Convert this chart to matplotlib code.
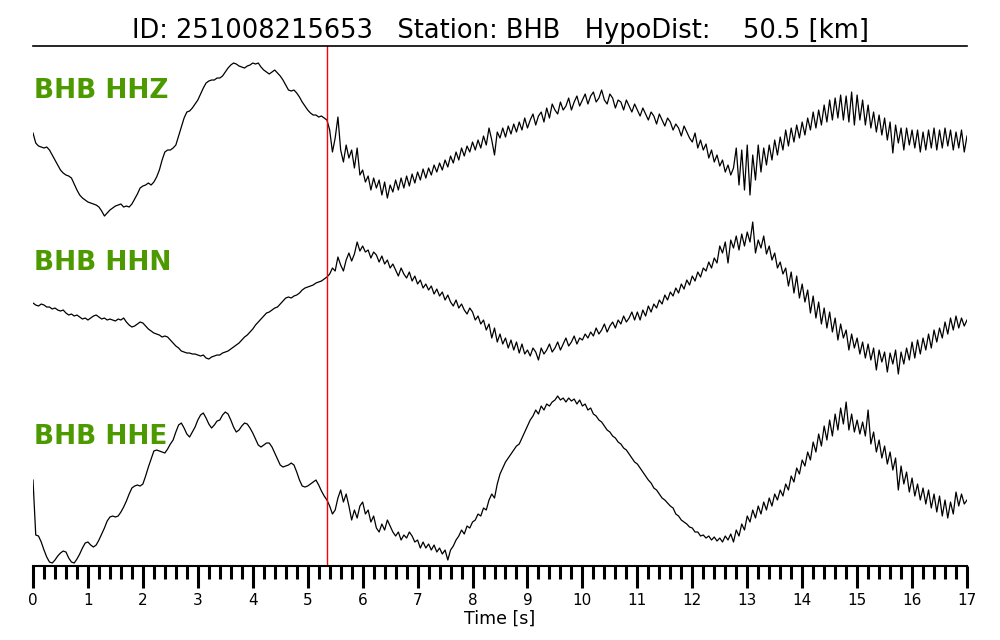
import numpy as np
import matplotlib
matplotlib.use('Agg')
import matplotlib.pyplot as plt
from matplotlib.ticker import MultipleLocator

# record info
event_id = "251008215653"
station = "BHB"
hypo_dist = 50.5
channels = ["HHZ", "HHN", "HHE"]
p_pick = 5.35      # seconds
dt = 0.05

hhz = [
    7, -3, -6, -7, -8, -7, -10, -15, -20, -25, -30, -33, -35, -36, -38, -44, -50, -55, -58, -60,
    -62, -63, -64, -65, -67, -71, -76, -73, -70, -68, -66, -65, -64, -67, -66, -67, -64, -59, -54, -48,
    -46, -45, -43, -45, -42, -37, -30, -20, -12, -10, -10, -8, -5, 4, 13, 22, 28, 29, 32, 36,
    40, 46, 52, 57, 59, 60, 60, 62, 62, 64, 68, 72, 75, 77, 76, 74, 73, 72, 74, 75,
    77, 76, 77, 73, 70, 68, 66, 68, 70, 67, 64, 60, 55, 50, 49, 50, 47, 43, 38, 34,
    30, 27, 25, 25, 23, 24, 22, 20, 10, -12, 2, 23, -10, -22, -5, -18, -10, -28, -8, -35,
    -30, -42, -36, -50, -38, -48, -40, -55, -42, -58, -45, -52, -40, -50, -38, -48, -36, -46, -34, -43,
    -32, -40, -29, -38, -28, -35, -25, -32, -23, -30, -20, -27, -16, -23, -12, -20, -8, -16, -6, -12,
    -2, -10, 0, -8, 4, -5, 12, 0, -15, 8, 2, 12, 3, 14, 6, 16, 8, 18, 10, 22,
    12, 20, 26, 15, 24, 28, 18, 32, 22, 36, 30, 26, 38, 30, 34, 42, 30, 38, 44, 34,
    40, 46, 36, 44, 48, 38, 42, 50, 40, 36, 46, 42, 32, 40, 38, 30, 40, 34, 28, 36,
    30, 24, 32, 26, 20, 28, 24, 16, 26, 20, 14, 22, 18, 10, 16, 12, 4, 14, 8, 2,
    -2, 7, -8, 0, -10, -4, -18, -10, -22, -15, -26, -20, -32, -25, -35, -28, -8, -45, -10, -50,
    -5, -55, -15, -40, -5, -32, -8, -25, -5, -20, 0, -15, 3, -10, 10, -6, 12, -2, 15, 2,
    18, 5, 22, 10, 28, 12, 30, 15, 35, 18, 40, 20, 42, 22, 45, 20, 44, 18, 48, 15,
    45, 20, 40, 15, 35, 12, 28, 8, 25, 5, 22, 0, 18, -13, 15, -3, 12, -10, 12, -5,
    10, -8, 10, -12, 8, -10, 10, -8, 12, -10, 10, -8, 12, -6, 10, -10, 8, -8, 10, -12,
    4,
]

hhn = [
    -5, -7, -8, -6, -7, -9, -9, -11, -10, -12, -13, -12, -15, -17, -16, -18, -17, -19, -21, -20,
    -22, -20, -18, -17, -19, -21, -20, -22, -21, -22, -23, -21, -22, -20, -24, -27, -29, -28, -26, -24,
    -25, -28, -31, -33, -35, -36, -37, -39, -38, -39, -42, -45, -48, -50, -53, -54, -55, -55, -56, -56,
    -57, -58, -57, -60, -61, -59, -58, -57, -57, -55, -54, -53, -51, -49, -47, -45, -42, -39, -37, -34,
    -31, -27, -24, -21, -18, -15, -14, -12, -10, -9, -6, -3, 0, 1, 0, 2, 3, 5, 8, 10,
    11, 12, 13, 15, 16, 17, 19, 21, 24, 30, 27, 41, 33, 27, 38, 45, 37, 44, 56, 47,
    52, 46, 48, 40, 46, 43, 36, 42, 34, 38, 30, 34, 28, 22, 30, 24, 20, 26, 17, 22,
    14, 18, 10, 14, 8, 12, 4, 9, 2, 6, -2, 3, -4, -8, -2, -10, -6, -12, -16, -10,
    -14, -22, -18, -26, -22, -32, -26, -40, -30, -44, -36, -46, -40, -50, -42, -52, -44, -55, -46, -56,
    -52, -58, -50, -54, -62, -50, -56, -52, -46, -54, -50, -44, -52, -46, -40, -48, -44, -38, -46, -40,
    -42, -36, -40, -34, -38, -30, -36, -32, -26, -34, -28, -24, -30, -22, -26, -18, -24, -20, -14, -22,
    -14, -22, -12, -18, -8, -14, -6, -10, -2, -6, 3, -2, 6, 2, 10, 5, 14, 9, 18, 13,
    22, 17, 26, 21, 30, 27, 36, 30, 40, 35, 52, 45, 56, 35, 58, 50, 62, 48, 64, 52,
    66, 56, 76, 45, 58, 50, 62, 44, 52, 38, 45, 30, 36, 24, 30, 12, 26, 5, 22, 0,
    14, -4, 8, -15, 2, -20, -4, -26, -10, -30, -14, -34, -20, -42, -26, -40, -32, -52, -36, -50,
    -40, -56, -44, -60, -46, -62, -50, -72, -52, -64, -54, -74, -55, -66, -52, -76, -54, -66, -50, -62,
    -44, -60, -42, -56, -40, -52, -36, -50, -32, -44, -30, -40, -24, -36, -20, -32, -18, -30, -20, -28,
    -22,
]

hhe = [
    0, -55, -56, -62, -70, -77, -82, -83, -80, -76, -73, -71, -72, -78, -82, -83, -79, -74, -68, -63,
    -62, -65, -67, -65, -60, -54, -48, -41, -37, -36, -37, -36, -32, -27, -21, -14, -8, -6, -5, -6,
    -4, 4, 13, 21, 29, 30, 29, 28, 27, 31, 36, 40, 48, 55, 57, 52, 46, 43, 48, 53,
    60, 65, 67, 62, 56, 52, 55, 59, 60, 65, 68, 66, 60, 53, 48, 50, 54, 57, 56, 52,
    47, 41, 35, 33, 35, 37, 37, 33, 27, 21, 15, 13, 14, 15, 17, 15, 8, 0, -6, -7,
    -6, -4, -2, 0, -5, -11, -16, -20, -26, -34, -30, -18, -10, -22, -14, -26, -40, -30, -38, -26,
    -22, -34, -30, -42, -36, -48, -52, -44, -50, -40, -46, -52, -56, -52, -60, -55, -58, -52, -56, -62,
    -60, -68, -62, -68, -64, -70, -65, -72, -68, -74, -70, -80, -70, -66, -60, -56, -50, -54, -46, -48,
    -42, -40, -34, -36, -28, -30, -20, -14, -18, -4, 6, 12, 18, 22, 26, 30, 34, 36, 42, 48,
    54, 60, 64, 70, 66, 74, 70, 76, 74, 78, 80, 84, 80, 82, 78, 82, 79, 81, 76, 80,
    74, 76, 70, 72, 66, 64, 60, 58, 54, 50, 48, 44, 42, 38, 36, 32, 30, 26, 22, 18,
    16, 12, 8, 4, 0, -3, -8, -10, -14, -18, -20, -23, -26, -28, -34, -36, -40, -42, -44, -47,
    -48, -52, -52, -56, -55, -58, -56, -60, -57, -61, -58, -62, -56, -60, -54, -62, -50, -56, -44, -50,
    -36, -42, -30, -38, -26, -34, -22, -30, -18, -26, -14, -20, -10, -16, -4, -10, 4, -2, 12, 6,
    20, 14, 28, 20, 38, 28, 46, 34, 54, 40, 60, 44, 66, 50, 72, 56, 78, 50, 66, 48,
    60, 46, 58, 44, 70, 36, 48, 28, 40, 22, 34, 16, 28, 10, 22, -10, 14, -4, 8, -12,
    2, -16, -4, -20, -8, -24, -10, -28, -14, -32, -16, -36, -20, -38, -22, -34, -12, -26, -14, -24,
    -20,
]

traces = [hhz, hhn, hhe]
for name, tr in zip(channels, traces):
    if len(tr) != 341:
        raise ValueError(f"{name}: {len(tr)} samples")

# vertical layout of the three traces
offsets = [4.26, 2.68, 0.86]
label_y = [4.75, 3.03, 1.29]
scale = 0.01

fig = plt.figure(figsize=(10, 6.4), dpi=100)
ax = fig.add_axes([0.033, 0.1156, 0.934, 0.8125])

for tr, off in zip(traces, offsets):
    t = np.arange(len(tr)) * dt
    ax.plot(t, off + np.array(tr) * scale, color='black', lw=0.9)

for ch, ly in zip(channels, label_y):
    ax.text(0.02, ly, f"{station} {ch}", color='#4c9a00', fontsize=19,
            fontweight='bold', va='center', ha='left')

ax.axvline(p_pick, color='red', lw=1.0)

ax.set_xlim(0, 17)
ax.set_ylim(0, 5.2)

ax.set_title(f"ID: {event_id}   Station: {station}   HypoDist:    {hypo_dist} [km]",
             fontsize=18.5, pad=6)
ax.set_xlabel("Time [s]", fontsize=12.5, labelpad=1)

# ruler-like time axis
ax.spines['left'].set_visible(False)
ax.spines['right'].set_visible(False)
ax.spines['top'].set_linewidth(1.2)
ax.spines['bottom'].set_linewidth(1.5)
ax.set_yticks([])
ax.xaxis.set_major_locator(MultipleLocator(1))
ax.xaxis.set_minor_locator(MultipleLocator(0.2))
ax.tick_params(axis='x', which='major', length=16, width=2.2, labelsize=11, pad=3.5)
ax.tick_params(axis='x', which='minor', length=9, width=2.2)

fig.savefig("out.png", dpi=100)
